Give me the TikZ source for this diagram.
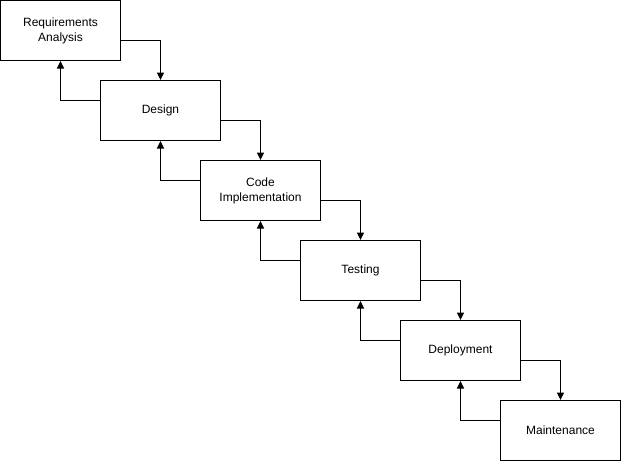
\documentclass[tikz,border=0pt]{standalone}
\usepackage{fontspec}
\setmainfont{Liberation Sans}
\usetikzlibrary{arrows.meta}

\begin{document}
\begin{tikzpicture}[x=1pt, y=-1pt, line width=1pt,
  phase/.style={draw, minimum width=120pt, minimum height=60pt, inner sep=0pt, align=center, font=\fontsize{12}{15}\selectfont},
  flow/.style={-{Triangle[length=7.5pt, width=7pt]}}]
  \useasboundingbox (-0.5,-0.5) rectangle (620.5,460.5);
  \node[phase] (req) at (60,30) {Requirements\\Analysis};
  \node[phase] (design) at (160,110) {Design};
  \node[phase] (code) at (260,190) {Code\\Implementation};
  \node[phase] (test) at (360,270) {Testing};
  \node[phase] (deploy) at (460,350) {Deployment};
  \node[phase] (maint) at (560,430) {Maintenance};
  % forward and back connectors
  \foreach \a/\b in {req/design, design/code, code/test, test/deploy, deploy/maint} {
    \draw[flow] ([yshift=-10pt]\a.east) -| (\b.north);
    \draw[flow] ([yshift=10pt]\b.west) -| (\a.south);
  }
\end{tikzpicture}
\end{document}
